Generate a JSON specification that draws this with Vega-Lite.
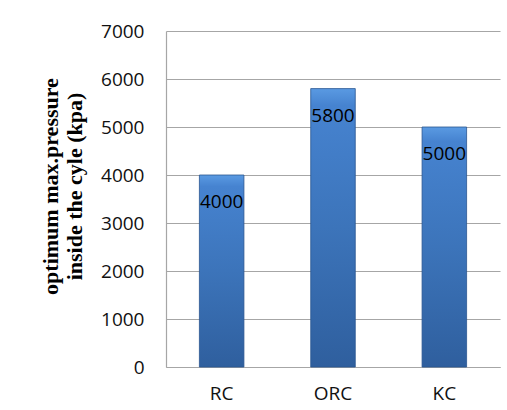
{
  "$schema": "https://vega.github.io/schema/vega-lite/v6.json",
  "autosize": "none",
  "width": 334,
  "height": 336,
  "padding": {"left": 166, "top": 31, "right": 7, "bottom": 43},
  "background": "white",
  "config": {"view": {"stroke": null}},
  "data": {"values": [
    {"cycle": "RC", "pressure": 4000},
    {"cycle": "ORC", "pressure": 5800},
    {"cycle": "KC", "pressure": 5000}
  ]},
  "encoding": {
    "x": {"field": "cycle", "type": "nominal", "sort": null,
      "scale": {"paddingInner": 0.6, "paddingOuter": 0.3},
      "axis": {"title": null, "labelAngle": 0, "labelFont": "Open Sans", "labelFontSize": 19, "labelColor": "#111111", "labelPadding": 17, "ticks": false, "domainColor": "#a6a6a6", "domainWidth": 1.2, "grid": false}},
    "y": {"field": "pressure", "type": "quantitative",
      "scale": {"domain": [0, 7000], "nice": false},
      "axis": {"values": [0, 1000, 2000, 3000, 4000, 5000, 6000, 7000], "format": "d", "ticks": false, "labelPadding": 22, "labelFont": "Open Sans", "labelFontSize": 19, "labelColor": "#111111", "domainColor": "#a6a6a6", "domainWidth": 1.2, "gridColor": "#a6a6a6", "gridWidth": 1.2,
        "title": ["optimum max.pressure", "inside the cyle (kpa)"], "titleFont": "Liberation Serif", "titleFontSize": 22, "titleFontWeight": "bold", "titleColor": "#000000", "titleLineHeight": 24, "titleAngle": -90, "titleBaseline": "middle", "titleAlign": "center", "titleX": -116, "titleY": 155}}
  },
  "layer": [
    {"mark": {"type": "bar", "stroke": "#2a5690", "strokeWidth": 0.8,
      "color": {"gradient": "linear", "x1": 0, "y1": 0, "x2": 0, "y2": 1,
        "stops": [{"offset": 0, "color": "#5a9ae2"}, {"offset": 0.06, "color": "#4683d0"}, {"offset": 0.5, "color": "#3c74ba"}, {"offset": 1, "color": "#2f5f9e"}]}}},
    {"mark": {"type": "text", "baseline": "alphabetic", "dy": 33, "font": "Open Sans", "fontSize": 19, "color": "#000000"},
      "encoding": {"text": {"field": "pressure", "type": "quantitative", "format": "d"}}}
  ]
}
